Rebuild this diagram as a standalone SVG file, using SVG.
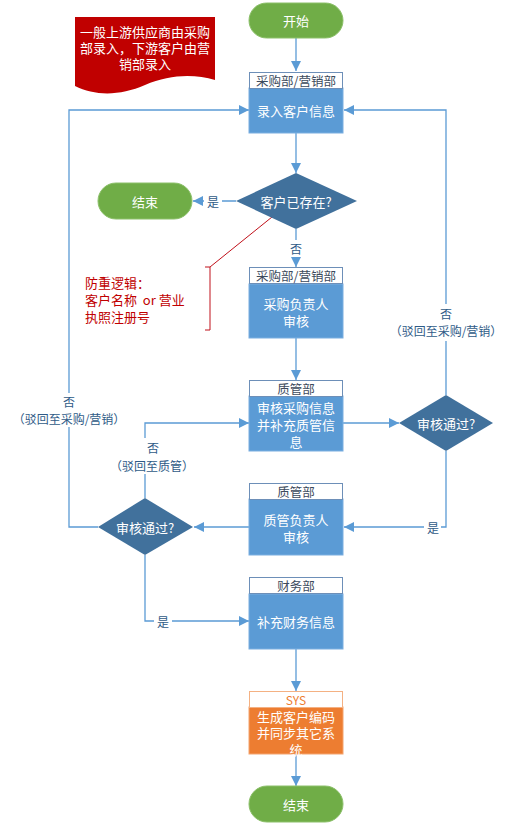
<svg xmlns="http://www.w3.org/2000/svg" width="515" height="831" viewBox="0 0 515 831">
<style>
text{font-family:"Noto Sans CJK SC","Liberation Sans",sans-serif;text-anchor:middle;dominant-baseline:central}
.w{fill:#fff;font-size:13px}
.hd{fill:#fff;stroke:#6d8fb8;stroke-width:1}
.ht{fill:#3c4a5c;font-size:12.5px}
.body{fill:#5b9bd5;stroke:#7aaee0;stroke-width:1}
.dia{fill:#41719c}
.pill{fill:#70ad47;stroke:#8cc06a;stroke-width:1}
.lbl{fill:#2f5b87;font-size:12px}
.ln{fill:none;stroke:#5b9bd5;stroke-width:1.3}
.red{fill:#c00000;font-size:13px;text-anchor:start}
</style>
<defs>
<marker id="arw" viewBox="0 0 10 10" refX="10" refY="5" markerWidth="10" markerHeight="10" orient="auto" markerUnits="userSpaceOnUse">
<path d="M0,0 L10,5 L0,10 Z" fill="#5b9bd5"/>
</marker>
</defs>
<rect width="515" height="831" fill="#fff"/>

<g id="connectors">
<path class="ln" d="M296,38 V71" marker-end="url(#arw)"/>
<path class="ln" d="M296,133 V173" marker-end="url(#arw)"/>
<path class="ln" d="M236,201 H222 M204,201 H193" marker-end="url(#arw)"/>
<path class="ln" d="M296,229 V240 M296,257 V267" marker-end="url(#arw)"/>
<path class="ln" d="M296,338 V380" marker-end="url(#arw)"/>
<path class="ln" d="M343,423 H399" marker-end="url(#arw)"/>
<path class="ln" d="M446,395 V341 M446,304 V110 H344" marker-end="url(#arw)"/>
<path class="ln" d="M446,451 V527 H441 M424,527 H344" marker-end="url(#arw)"/>
<path class="ln" d="M249,527 H194" marker-end="url(#arw)"/>
<path class="ln" d="M98,527 H69 V427 M69,393 V110 H249" marker-end="url(#arw)"/>
<path class="ln" d="M145,498 V474 M145,438 V423 H249" marker-end="url(#arw)"/>
<path class="ln" d="M145,555 V621 H154 M172,621 H249" marker-end="url(#arw)"/>
<path class="ln" d="M296,649 V691" marker-end="url(#arw)"/>
<path class="ln" d="M296,754 V786" marker-end="url(#arw)"/>
<path d="M272,217 L210,267 M205,267 H210 V330 H205" fill="none" stroke="#c0101a" stroke-width="1"/>
</g>

<g id="labels">
<text class="lbl" x="213" y="201">是</text>
<text class="lbl" x="296" y="248">否</text>
<text class="lbl" x="446" y="321"><tspan x="446" dy="-8.5">否</tspan><tspan x="446" dy="17">（驳回至采购/营销）</tspan></text>
<text class="lbl" x="69" y="409.5"><tspan x="69" dy="-8.5">否</tspan><tspan x="69" dy="17">（驳回至采购/营销）</tspan></text>
<text class="lbl" x="152" y="456"><tspan x="153" dy="-9">否</tspan><tspan x="152" dy="18">（驳回至质管）</tspan></text>
<text class="lbl" x="433" y="527">是</text>
<text class="lbl" x="163" y="621">是</text>
</g>

<g id="note">
<path d="M75,17 H215 V80 C195,74 170,74 145,85 C120,96 95,96 75,86 Z" fill="#c00000"/>
<text class="w" x="145" y="47"><tspan x="145" dy="-16">一般上游供应商由采购</tspan><tspan x="145" dy="16">部录入，下游客户由营</tspan><tspan x="145" dy="15.5">销部录入</tspan></text>
</g>

<g id="dedup">
<text class="red" x="85" y="299" xml:space="preserve"><tspan x="85" dy="-17">防重逻辑：</tspan><tspan x="85" dy="17">客户名称  or 营业</tspan><tspan x="85" dy="17">执照注册号</tspan></text>
</g>

<g id="start">
<rect class="pill" x="249" y="3" width="94" height="35" rx="17.5"/>
<text class="w" x="296" y="20.5">开始</text>
</g>

<g id="input">
<rect class="body" x="249" y="88" width="94" height="45"/>
<rect class="hd" x="249.5" y="72.5" width="93" height="16"/>
<text class="ht" x="296" y="80.5">采购部/营销部</text>
<text class="w" x="296" y="110">录入客户信息</text>
</g>

<g id="exists">
<path class="dia" d="M296,173 L357,201 L296,229 L236,201 Z"/>
<text class="w" x="296" y="201">客户已存在?</text>
</g>

<g id="end1">
<rect class="pill" x="98" y="183" width="94" height="36" rx="18"/>
<text class="w" x="145" y="201">结束</text>
</g>

<g id="review1">
<rect class="body" x="249" y="284" width="94" height="54"/>
<rect class="hd" x="249.5" y="267.5" width="93" height="16"/>
<text class="ht" x="296" y="275.5">采购部/营销部</text>
<text class="w" x="296" y="311.5"><tspan x="296" dy="-8.5">采购负责人</tspan><tspan x="296" dy="17">审核</tspan></text>
</g>

<g id="qc">
<rect class="body" x="249" y="396" width="94" height="55"/>
<rect class="hd" x="249.5" y="380.5" width="93" height="16"/>
<text class="ht" x="296" y="388.5">质管部</text>
<text class="w" x="296" y="424"><tspan x="296" dy="-17">审核采购信息</tspan><tspan x="296" dy="17">并补充质管信</tspan><tspan x="296" dy="17">息</tspan></text>
</g>

<g id="pass1">
<path class="dia" d="M446,395 L493,423 L446,451 L399,423 Z"/>
<text class="w" x="446" y="423">审核通过?</text>
</g>

<g id="review2">
<rect class="body" x="249" y="499" width="94" height="56"/>
<rect class="hd" x="249.5" y="483.5" width="93" height="16"/>
<text class="ht" x="296" y="491.5">质管部</text>
<text class="w" x="296" y="527.5"><tspan x="296" dy="-8.5">质管负责人</tspan><tspan x="296" dy="17">审核</tspan></text>
</g>

<g id="pass2">
<path class="dia" d="M145,498 L193,527 L145,555 L98,527 Z"/>
<text class="w" x="145" y="527">审核通过?</text>
</g>

<g id="finance">
<rect class="body" x="249" y="594" width="94" height="55"/>
<rect class="hd" x="249.5" y="577.5" width="93" height="16"/>
<text class="ht" x="296" y="585.5">财务部</text>
<text class="w" x="296" y="621">补充财务信息</text>
</g>

<g id="sys">
<rect x="249" y="707" width="94" height="47" fill="#ed7d31" stroke="#f4a46f" stroke-width="1"/>
<rect x="249.5" y="691.5" width="93" height="16" fill="#fff" stroke="#f4b183" stroke-width="1"/>
<text x="296" y="699" fill="#ed7d31" font-size="12">SYS</text>
<text class="w" x="296" y="732" font-size="12.5"><tspan x="296" dy="-16.5">生成客户编码</tspan><tspan x="296" dy="16.5">并同步其它系</tspan><tspan x="296" dy="16.5">统</tspan></text>
</g>

<g id="end2">
<rect class="pill" x="249" y="786" width="94" height="36" rx="18"/>
<text class="w" x="296" y="804">结束</text>
</g>
</svg>
